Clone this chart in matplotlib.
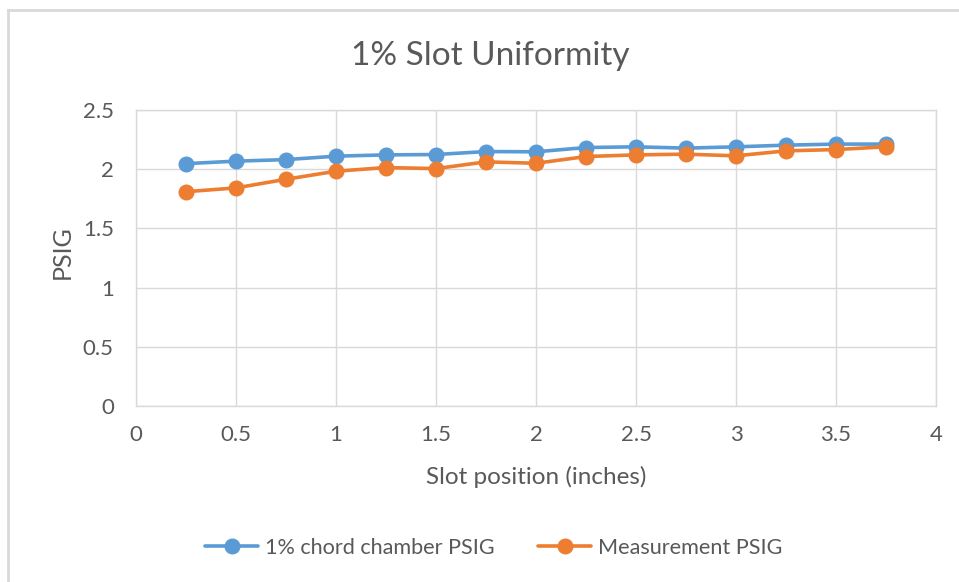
import matplotlib
matplotlib.use("Agg")
import matplotlib.pyplot as plt
from matplotlib.lines import Line2D

plt.rcParams['font.family'] = ['Lato', 'DejaVu Sans']

positions = [0.25, 0.5, 0.75, 1.0, 1.25, 1.5, 1.75, 2.0, 2.25, 2.5, 2.75, 3.0, 3.25, 3.5, 3.75]
chamber_psig = [2.047, 2.068, 2.081, 2.110, 2.121, 2.124, 2.149, 2.147, 2.183, 2.189, 2.178, 2.189, 2.203, 2.212, 2.212]
measurement_psig = [1.810, 1.842, 1.915, 1.983, 2.014, 2.005, 2.062, 2.050, 2.107, 2.121, 2.127, 2.113, 2.155, 2.166, 2.189]
x_ticks = [0, 0.5, 1, 1.5, 2, 2.5, 3, 3.5, 4]
x_tick_labels = ['0', '0.5', '1', '1.5', '2', '2.5', '3', '3.5', '4']
y_ticks = [0, 0.5, 1, 1.5, 2, 2.5]
y_tick_labels = ['0', '0.5', '1', '1.5', '2', '2.5']

W, H = 959, 582
fig = plt.figure(figsize=(W / 100, H / 100), dpi=100)
ax = fig.add_axes([136 / W, 1 - 406 / H, (936 - 136) / W, (406 - 110) / H])

blue = '#5B9BD5'
orange = '#ED7D31'
txt = '#595959'
grid = '#D9D9D9'

ax.plot(positions, chamber_psig, color=blue, lw=2.6, marker='o', ms=10.5,
        label='1% chord chamber PSIG', solid_capstyle='round', zorder=3)
ax.plot(positions, measurement_psig, color=orange, lw=2.6, marker='o', ms=10.5,
        label='Measurement PSIG', solid_capstyle='round', zorder=3)

ax.set_xlim(0, 4)
ax.set_ylim(0, 2.5)
ax.set_xticks(x_ticks)
ax.set_xticklabels(x_tick_labels)
ax.set_yticks(y_ticks)
ax.set_yticklabels(y_tick_labels)
ax.grid(True, color=grid, lw=1)
ax.set_axisbelow(True)
for s in ax.spines.values():
    s.set_color(grid)
    s.set_linewidth(1)
ax.tick_params(length=0, colors=txt, labelsize=16)
ax.tick_params(axis='x', pad=14)
ax.tick_params(axis='y', pad=16)

fig.text(62 / W, 1 - 252 / H, 'PSIG', rotation=90, ha='center', va='center',
         color=txt, fontsize=18)
fig.text(536 / W, 1 - 477 / H, 'Slot position (inches)', ha='center', va='center',
         color=txt, fontsize=17.5)
fig.text(490 / W, 1 - 56 / H, '1% Slot Uniformity', ha='center', va='center',
         color=txt, fontsize=24)

handles, labels = ax.get_legend_handles_labels()
leg = fig.legend(handles, labels, loc='center', bbox_to_anchor=(494 / W, 1 - 548 / H),
                 ncol=2, frameon=False, fontsize=15.6, handlelength=2.45,
                 columnspacing=2.0, handletextpad=0.32, labelcolor=txt)
for h in leg.legend_handles:
    h.set_markersize(10.5)

# chart area border
fig.add_artist(Line2D([8 / W, 1], [1 - 10 / H, 1 - 10 / H], color='#D9D9D9', lw=2,
                      transform=fig.transFigure))
fig.add_artist(Line2D([8 / W, 8 / W], [0, 1 - 10 / H], color='#D9D9D9', lw=2,
                      transform=fig.transFigure))

fig.savefig('out.png', dpi=100)
